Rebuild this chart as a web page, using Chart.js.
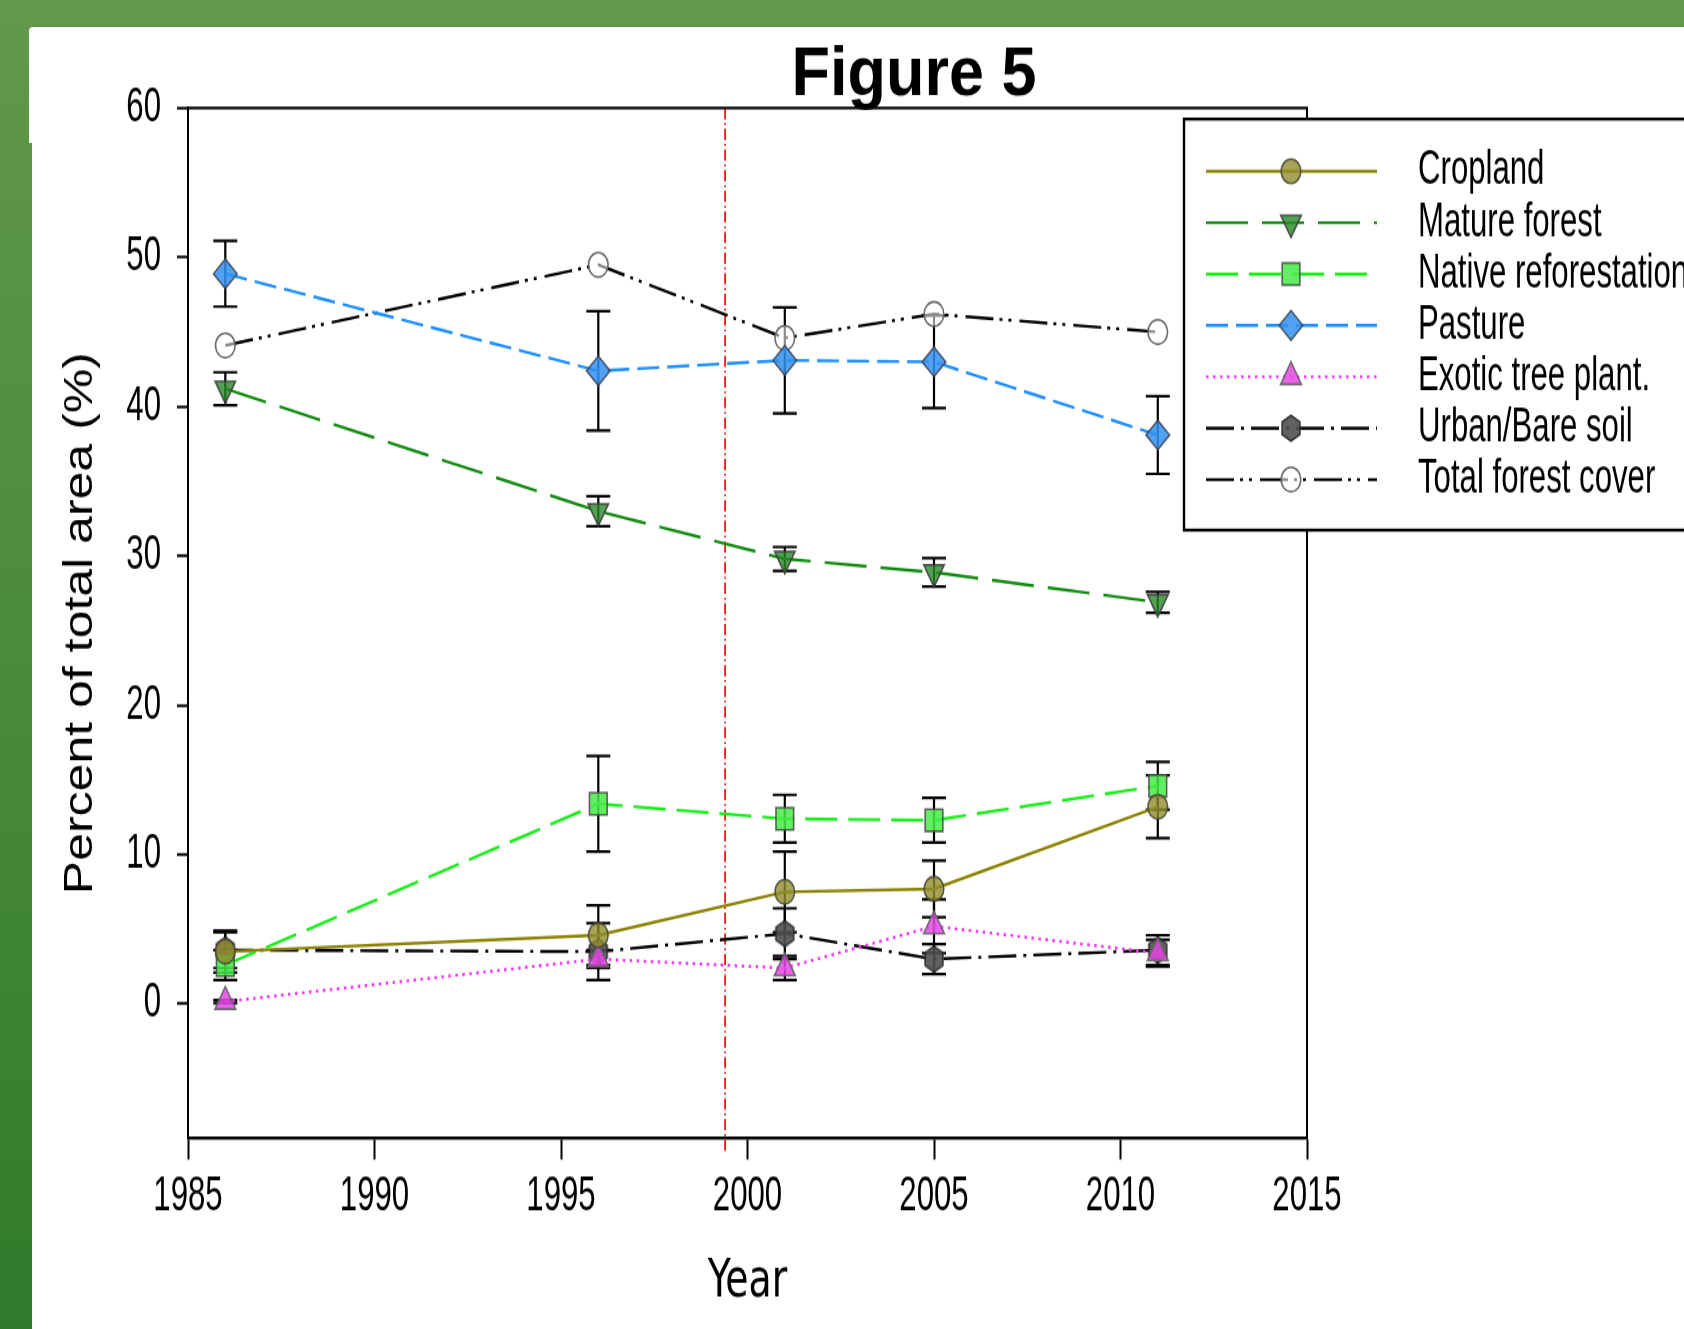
<!DOCTYPE html>
<html>
<head>
<meta charset="utf-8">
<title>Figure 5</title>
<script src="https://cdn.jsdelivr.net/npm/chart.js@4.4.1/dist/chart.umd.min.js"></script>
<style>
  html, body { margin: 0; padding: 0; }
  body {
    width: 1684px; height: 1329px; overflow: hidden; position: relative;
    background: linear-gradient(180deg, #62984a 0%, #4d8c3b 45%, #2f7b2b 100%);
  }
  #band { position: absolute; left: 0; top: 0; width: 1684px; height: 27px; background: #62984a; }
  #panel { position: absolute; left: 32px; top: 27px; right: 0; bottom: 0; background: #fff; }
  #panelTop { position: absolute; left: 29px; top: 27px; width: 20px; height: 116px; background: #fff; border-top-left-radius: 4px; }
  #chart { position: absolute; left: 0; top: 0; }
</style>
</head>
<body>
<div id="band"></div>
<div id="panel"></div>
<div id="panelTop"></div>
<canvas id="chart" width="1684" height="1063" style="width:1684px;height:1329px;"></canvas>
<script>
// ---- data ----
const TITLE_TEXT = 'Figure 5';
const X_TITLE = 'Year';
const Y_TITLE = 'Percent of total area (%)';
const years = [1986, 1996, 2001, 2005, 2011];
const xTicks = [1985, 1990, 1995, 2000, 2005, 2010, 2015];
const yTicks = [0, 10, 20, 30, 40, 50, 60];
const markerYear = 1999.4;   // dotted reference line

const labels = ['Cropland', 'Mature forest', 'Native reforestation', 'Pasture',
                'Exotic tree plant.', 'Urban/Bare soil', 'Total forest cover'];

const cropland      = [3.5, 4.6, 7.5, 7.7, 13.2];
const croplandErr   = [1.4, 2.0, 2.7, 1.9, 2.1];
const matureForest  = [41.2, 33.0, 29.8, 28.9, 26.9];
const matureErr     = [1.1, 1.0, 0.8, 0.95, 0.7];
const nativeRefor   = [2.6, 13.4, 12.4, 12.3, 14.6];
const nativeErr     = [1.0, 3.2, 1.6, 1.5, 1.6];
const pasture       = [48.9, 42.4, 43.1, 43.0, 38.1];
const pastureErr    = [2.2, 4.0, 3.55, 3.1, 2.6];
const exotic        = [0.15, 3.0, 2.4, 5.2, 3.4];
const exoticErr     = [0.1, 0.6, 0.8, 1.8, 0.9];
const urban         = [3.6, 3.5, 4.7, 3.0, 3.6];
const urbanErr      = [1.2, 1.9, 1.7, 1.0, 1.0];
const totalForest   = [44.1, 49.5, 44.6, 46.2, 45.0];

// ---- drawing setup ----
const CONDENSED = '"DejaVu Sans Condensed", sans-serif';
const REGULAR = '"Liberation Sans", Arial, sans-serif';
const NARROW_K = 0.82;   // horizontal squeeze for the narrow label face

// text squeezed horizontally to a narrow face
function drawNarrow(ctx, text, x, y, align) {
  ctx.save();
  ctx.translate(x, y);
  ctx.scale(NARROW_K, 1);
  ctx.textAlign = align;
  ctx.fillText(text, 0, 0);
  ctx.restore();
}

// hexagon marker for the urban series
function hexagonMarker(R, fill, stroke) {
  const c = document.createElement('canvas');
  const w = Math.ceil(Math.sqrt(3) * R + 4), h = Math.ceil(2 * R + 4);
  c.width = w; c.height = h;
  const g = c.getContext('2d');
  g.beginPath();
  for (let k = 0; k < 6; k++) {
    const a = -Math.PI / 2 + k * Math.PI / 3;
    const px = w / 2 + R * Math.cos(a), py = h / 2 + R * Math.sin(a);
    if (k === 0) g.moveTo(px, py); else g.lineTo(px, py);
  }
  g.closePath();
  g.fillStyle = fill; g.fill();
  g.lineWidth = 1.6; g.strokeStyle = stroke; g.stroke();
  return c;
}

function pts(vals) { return years.map((yr, i) => ({ x: yr, y: vals[i] })); }

function series(label, vals, errs, style) {
  return Object.assign({
    label: label,
    data: pts(vals),
    errors: errs,
    fill: false,
    tension: 0,
    borderWidth: 2.4,
    pointBorderWidth: 1.6,
    pointHoverRadius: 0
  }, style);
}

const datasets = [
  series(labels[0], cropland, croplandErr, {
    borderColor: '#8c8200', borderDash: [],
    pointStyle: 'circle', pointRadius: 9.8,
    pointBackgroundColor: 'rgba(145,140,45,0.8)', pointBorderColor: 'rgba(70,70,50,0.85)'
  }),
  series(labels[1], matureForest, matureErr, {
    borderColor: '#148c14', borderDash: [42, 14],
    pointStyle: 'triangle', pointRotation: 180, pointRadius: 11.8,
    pointBackgroundColor: 'rgba(40,135,40,0.8)', pointBorderColor: 'rgba(60,60,60,0.85)'
  }),
  series(labels[2], nativeRefor, nativeErr, {
    borderColor: '#16f016', borderDash: [32, 11],
    pointStyle: 'rect', pointRadius: 12.5,
    pointBackgroundColor: 'rgba(70,235,70,0.85)', pointBorderColor: 'rgba(70,70,70,0.85)'
  }),
  series(labels[3], pasture, pastureErr, {
    borderColor: '#1e8fff', borderDash: [22, 8],
    pointStyle: 'rectRot', pointRadius: 11.8,
    pointBackgroundColor: 'rgba(50,145,240,0.85)', pointBorderColor: 'rgba(60,70,90,0.85)'
  }),
  series(labels[4], exotic, exoticErr, {
    borderColor: '#ff2cff', borderDash: [2.5, 4.5],
    pointStyle: 'triangle', pointRadius: 12,
    pointBackgroundColor: 'rgba(230,70,230,0.85)', pointBorderColor: 'rgba(100,100,100,0.9)'
  }),
  series(labels[5], urban, urbanErr, {
    borderColor: '#000000', borderDash: [28, 7, 3, 7],
    pointStyle: hexagonMarker(10.3, 'rgba(80,80,80,0.9)', 'rgba(40,40,40,0.9)'), pointRadius: 10,
    pointBackgroundColor: 'rgba(80,80,80,0.9)', pointBorderColor: 'rgba(40,40,40,0.9)'
  }),
  series(labels[6], totalForest, null, {
    borderColor: '#000000', borderDash: [28, 6, 3, 6, 3, 8],
    pointStyle: 'circle', pointRadius: 9.8,
    pointBackgroundColor: 'rgba(255,255,255,0.55)', pointBorderColor: 'rgba(100,100,100,0.95)'
  })
];

// ---- plugins ----
const titlePlugin = {
  id: 'figTitle',
  afterDraw(chart) {
    const ctx = chart.ctx;
    ctx.save();
    ctx.font = 'bold 63px ' + REGULAR;
    ctx.fillStyle = '#000';
    ctx.textAlign = 'center';
    ctx.textBaseline = 'alphabetic';
    ctx.translate(914, 75.6);
    ctx.scale(1, 0.87);
    ctx.fillText(TITLE_TEXT, 0, 0);
    ctx.restore();
  }
};

// tick labels in the narrow face, placed by the scales
const tickLabelPlugin = {
  id: 'narrowTicks',
  afterDraw(chart) {
    const { ctx, scales } = chart;
    const xs = scales.x, ys = scales.y;
    ctx.save();
    ctx.fillStyle = '#000';
    ctx.font = '38px ' + REGULAR;
    ctx.textBaseline = 'middle';
    const xLabelY = xs.top + xs.options.grid.tickLength + 29.8;
    xs.ticks.forEach(t => drawNarrow(ctx, String(t.value), xs.getPixelForValue(t.value), xLabelY, 'center'));
    const yLabelX = ys.right - ys.options.grid.tickLength - 16;
    ys.ticks.forEach(t => drawNarrow(ctx, String(t.value), yLabelX, ys.getPixelForValue(t.value), 'right'));
    ctx.restore();
  }
};

const framePlugin = {
  id: 'frame',
  afterDraw(chart) {
    const { ctx, chartArea: a } = chart;
    ctx.save();
    ctx.strokeStyle = '#000';
    ctx.lineWidth = 2.4;
    ctx.beginPath(); ctx.moveTo(a.left - 1, a.top); ctx.lineTo(a.right + 1, a.top); ctx.stroke();
    ctx.lineWidth = 2;
    ctx.beginPath(); ctx.moveTo(a.right, a.top); ctx.lineTo(a.right, a.bottom); ctx.stroke();
    ctx.restore();
  }
};

const refLinePlugin = {
  id: 'refLine',
  beforeDatasetsDraw(chart) {
    const { ctx, chartArea: a, scales } = chart;
    const x = scales.x.getPixelForValue(markerYear);
    ctx.save();
    ctx.strokeStyle = '#ff1010';
    ctx.lineWidth = 1.8;
    ctx.setLineDash([9, 3, 1.5, 3]);
    ctx.beginPath(); ctx.moveTo(x, a.top); ctx.lineTo(x, a.bottom + 12); ctx.stroke();
    ctx.restore();
  }
};

const errorBarPlugin = {
  id: 'errorBars',
  beforeDatasetsDraw(chart) {
    const { ctx, scales } = chart;
    ctx.save();
    ctx.strokeStyle = '#000';
    ctx.lineWidth = 2.2;
    chart.data.datasets.forEach(ds => {
      if (!ds.errors) return;
      ds.data.forEach((p, i) => {
        const e = ds.errors[i];
        const x = scales.x.getPixelForValue(p.x);
        const yT = scales.y.getPixelForValue(p.y + e);
        const yB = scales.y.getPixelForValue(p.y - e);
        ctx.beginPath();
        ctx.moveTo(x, yT); ctx.lineTo(x, yB);
        ctx.moveTo(x - 12, yT); ctx.lineTo(x + 12, yT);
        ctx.moveTo(x - 12, yB); ctx.lineTo(x + 12, yB);
        ctx.stroke();
      });
    });
    ctx.restore();
  }
};

function drawMarker(ctx, ds, x, y) {
  const opts = { pointStyle: ds.pointStyle, rotation: ds.pointRotation || 0,
                 radius: ds.pointRadius, borderWidth: ds.pointBorderWidth };
  ctx.fillStyle = ds.pointBackgroundColor;
  ctx.strokeStyle = ds.pointBorderColor;
  ctx.lineWidth = ds.pointBorderWidth;
  if (Chart.helpers && Chart.helpers.drawPoint) {
    Chart.helpers.drawPoint(ctx, opts, x, y);
  } else if (ds.pointStyle instanceof HTMLCanvasElement) {
    ctx.drawImage(ds.pointStyle, x - ds.pointStyle.width / 2, y - ds.pointStyle.height / 2);
  } else {
    ctx.beginPath(); ctx.arc(x, y, ds.pointRadius, 0, Math.PI * 2); ctx.fill(); ctx.stroke();
  }
}

const legendPlugin = {
  id: 'boxLegend',
  afterDraw(chart) {
    const ctx = chart.ctx;
    const left = 1184, top = 95.2, bottom = 424, right = 1740;
    ctx.save();
    ctx.fillStyle = '#fff';
    ctx.fillRect(left, top, right - left, bottom - top);
    ctx.strokeStyle = '#000';
    ctx.lineWidth = 2.4;
    ctx.strokeRect(left, top, right - left, bottom - top);
    chart.data.datasets.forEach((ds, i) => {
      const y = 137 + i * 41.1;
      ctx.save();
      ctx.setLineDash(ds.borderDash || []);
      ctx.strokeStyle = ds.borderColor;
      ctx.lineWidth = ds.borderWidth;
      ctx.beginPath(); ctx.moveTo(1206, y); ctx.lineTo(1377, y); ctx.stroke();
      ctx.setLineDash([]);
      drawMarker(ctx, ds, 1291, y);
      ctx.restore();
      ctx.fillStyle = '#000';
      ctx.font = '38px ' + REGULAR;
      ctx.textBaseline = 'middle';
      drawNarrow(ctx, ds.label, 1418, y, 'left');
    });
    ctx.restore();
  }
};

// ---- chart ----
new Chart(document.getElementById('chart'), {
  type: 'line',
  data: { datasets: datasets },
  options: {
    responsive: false,
    animation: false,
    devicePixelRatio: 1,
    events: [],
    layout: { padding: { left: 0, right: 377, top: 86.4, bottom: 0 } },
    plugins: {
      legend: { display: false },
      title: { display: false },
      tooltip: { enabled: false }
    },
    scales: {
      x: {
        type: 'linear',
        min: 1985, max: 2015,
        afterBuildTicks: s => { s.ticks = xTicks.map(v => ({ value: v })); },
        afterFit: s => { s.height = 152.6; },
        ticks: { display: false, callback: v => String(v), autoSkip: false },
        grid: { drawOnChartArea: false, drawTicks: true, tickLength: 17,
                tickColor: '#000', tickWidth: 2, color: '#000' },
        border: { display: true, color: '#000', width: 2.4 },
        title: { display: true, text: X_TITLE, color: '#000', padding: 11.4,
                 font: { family: CONDENSED, size: 42 } }
      },
      y: {
        type: 'linear',
        min: -9, max: 60,
        afterBuildTicks: s => { s.ticks = yTicks.map(v => ({ value: v })); },
        afterFit: s => { s.width = 188; },
        ticks: { display: false, callback: v => String(v), autoSkip: false },
        grid: { drawOnChartArea: false, drawTicks: true, tickLength: 11,
                tickColor: '#000', tickWidth: 2.2, color: '#000' },
        border: { display: true, color: '#000', width: 2 },
        title: { display: true, text: Y_TITLE, color: '#000', padding: 56.5,
                 font: { family: REGULAR, size: 40 } }
      }
    }
  },
  plugins: [refLinePlugin, errorBarPlugin, framePlugin, tickLabelPlugin, legendPlugin, titlePlugin]
});
</script>
</body>
</html>
